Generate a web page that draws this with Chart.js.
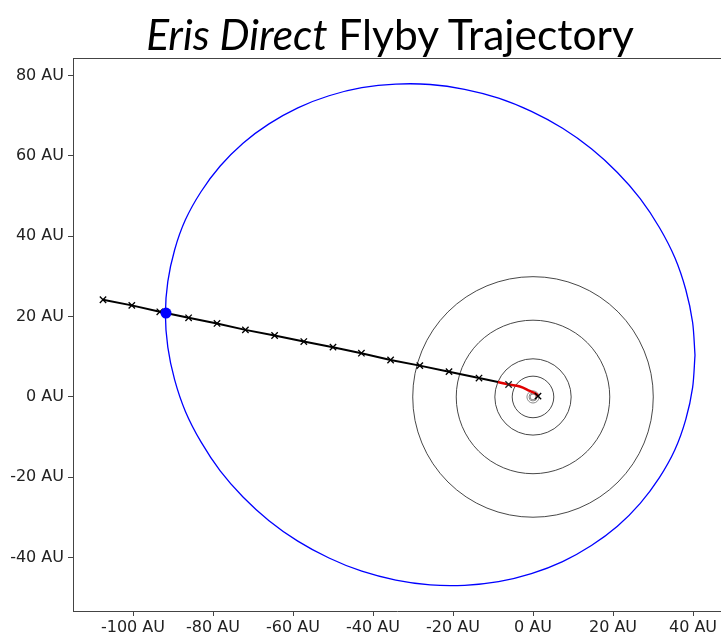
<!DOCTYPE html>
<html>
<head>
<meta charset="utf-8">
<script src="https://cdn.jsdelivr.net/npm/chart.js@4/dist/chart.umd.min.js"></script>
<style>
  body { margin: 0; background: #fff; }
  #wrap { position: relative; width: 721px; height: 640px; overflow: hidden; }
  #title {
    position: absolute; left: 0; top: 8px; width: 780px; text-align: center;
    font-family: Lato, "Noto Sans", sans-serif; font-size: 42.5px; color: #000;
    white-space: nowrap;
  }
</style>
</head>
<body>
<div id="wrap">
  <div id="title"><i>Eris Direct</i> Flyby Trajectory</div>
  <canvas id="myChart"></canvas>
</div>
<script>
// planet orbits (AU), drawn as circles around the Sun
const outerOrbitRadii = [30.07, 19.19, 9.54, 5.2];
const innerOrbitRadii = [1.52, 1.0, 0.72];

// Eris orbit, projected (AU) - closed loop
const erisOrbitX = [40.5, 39.9, 38.2, 35.5, 31.6, 26.8, 21.1, 14.6, 7.4, -0.4, -8.6, -17.1,
                    -25.7, -34.3, -42.8, -51.0, -58.8, -66.0, -72.5, -78.2, -83.0, -86.9, -89.6, -91.3,
                    -91.9, -91.3, -89.6, -86.9, -83.0, -78.2, -72.5, -66.0, -58.8, -51.0, -42.8, -34.3,
                    -25.7, -17.1, -8.6, -0.4, 7.4, 14.6, 21.1, 26.8, 31.6, 35.5, 38.2, 39.9, 40.5];
const erisOrbitY = [10.4, 18.6, 26.7, 34.6, 42.2, 49.4, 55.9, 61.8, 66.9, 71.1, 74.4, 76.6,
                    77.8, 77.9, 77.0, 75.0, 72.0, 68.0, 63.2, 57.5, 51.1, 44.1, 36.6, 28.7,
                    20.6, 12.4, 4.3, -3.6, -11.2, -18.4, -24.9, -30.8, -35.9, -40.1, -43.4, -45.6,
                    -46.8, -46.9, -46.0, -44.0, -41.0, -37.0, -32.2, -26.5, -20.1, -13.1, -5.6, 2.3, 10.4];

// Eris at flyby
const erisX = [-91.75];
const erisY = [20.9];

// cruise leg (black, yearly markers)
const cruiseX = [-107.5, -100.3, -93.3, -86.1, -79.0, -71.9, -64.6, -57.3, -50.0, -42.9, -35.6, -28.3, -21.0, -13.5, -8.75];
const cruiseY = [24.2, 22.8, 21.2, 19.7, 18.3, 16.7, 15.3, 13.8, 12.4, 10.9, 9.2, 7.8, 6.3, 4.7, 3.7];

// launch leg (red)
const launchX = [-8.75, -6.1, -3.3, -0.8, 0.85, 1.25];
const launchY = [3.7, 3.1, 2.6, 1.5, 0.7, 0.1];
const launchMarker = [0, 4.5, 0, 0, 0, 0];

// departure point
const departX = [1.25];
const departY = [0.2];

const xTicks = [-100, -80, -60, -40, -20, 0, 20, 40];
const yTicks = [-40, -20, 0, 20, 40, 60, 80];

const pts = (xs, ys) => xs.map((x, i) => ({ x: x, y: ys[i] }));
const auToPx = (c, r) => {
    const s = c.chart.scales.x;
    return Math.abs(s.getPixelForValue(r) - s.getPixelForValue(0));
};

// top spine
const frame = {
    id: 'frame',
    afterDraw(chart) {
        const { ctx, chartArea: a } = chart;
        ctx.save();
        ctx.strokeStyle = '#444';
        ctx.lineWidth = 1;
        ctx.beginPath();
        ctx.moveTo(a.left, a.top + 0.5);
        ctx.lineTo(a.right, a.top + 0.5);
        ctx.stroke();
        ctx.restore();
    }
};

const axisFont = { family: 'DejaVu Sans', size: 16 };

const ctx = document.getElementById('myChart');
new Chart(ctx, {
    type: 'scatter',
    data: {
        datasets: [
            {
                data: pts(erisX, erisY),
                pointRadius: 5.5,
                pointBackgroundColor: '#0000ff',
                pointBorderWidth: 0
            },
            {
                data: pts(departX, departY),
                pointStyle: 'crossRot',
                pointRadius: 4.5,
                pointBorderColor: '#000',
                pointBorderWidth: 1.3
            },
            {
                data: pts(launchX, launchY),
                showLine: true,
                borderColor: '#e00000',
                borderWidth: 2.5,
                tension: 0.4,
                pointStyle: 'crossRot',
                pointRadius: launchMarker,
                pointBorderColor: '#222',
                pointBorderWidth: 1.3
            },
            {
                data: pts(cruiseX, cruiseY),
                showLine: true,
                borderColor: '#000',
                borderWidth: 2,
                pointStyle: 'crossRot',
                pointRadius: cruiseX.map((x, i) => i === cruiseX.length - 1 ? 0 : 4.5),
                pointBorderColor: '#000',
                pointBorderWidth: 1.3
            },
            {
                data: pts(erisOrbitX, erisOrbitY),
                showLine: true,
                borderColor: '#0000ff',
                borderWidth: 1.3,
                tension: 0.3,
                pointRadius: 0
            },
            {
                data: innerOrbitRadii.map(() => ({ x: 0, y: 0 })),
                pointRadius: c => auToPx(c, innerOrbitRadii[c.dataIndex]),
                pointBackgroundColor: 'rgba(0,0,0,0)',
                pointBorderColor: '#888',
                pointBorderWidth: 1
            },
            {
                data: outerOrbitRadii.map(() => ({ x: 0, y: 0 })),
                pointRadius: c => auToPx(c, outerOrbitRadii[c.dataIndex]),
                pointBackgroundColor: 'rgba(0,0,0,0)',
                pointBorderColor: '#333',
                pointBorderWidth: 0.9
            }
        ]
    },
    options: {
        responsive: true,
        maintainAspectRatio: false,
        animation: false,
        events: [],
        layout: { autoPadding: false, padding: { top: 58, right: 0, left: 0, bottom: 0 } },
        plugins: { legend: { display: false }, tooltip: { enabled: false } },
        scales: {
            x: {
                type: 'linear',
                min: -115,
                max: 47,
                afterFit: s => { s.height = 29; s.paddingLeft = 0; s.paddingRight = 0; },
                afterBuildTicks: s => { s.ticks = xTicks.map(v => ({ value: v })); },
                grid: { drawOnChartArea: false, tickLength: 5, color: '#444' },
                border: { color: '#444', width: 1 },
                ticks: {
                    font: axisFont, color: '#222', padding: 2, maxRotation: 0,
                    callback: v => v + ' AU'
                }
            },
            y: {
                type: 'linear',
                min: -53.3,
                max: 84.4,
                afterFit: s => { s.width = 73; s.paddingTop = 0; s.paddingBottom = 0; },
                afterBuildTicks: s => { s.ticks = yTicks.map(v => ({ value: v })); },
                grid: { drawOnChartArea: false, tickLength: 5, color: '#444' },
                border: { color: '#444', width: 1 },
                ticks: {
                    font: axisFont, color: '#222', padding: 4,
                    callback: v => v + ' AU'
                }
            }
        }
    },
    plugins: [frame]
});
</script>
</body>
</html>
